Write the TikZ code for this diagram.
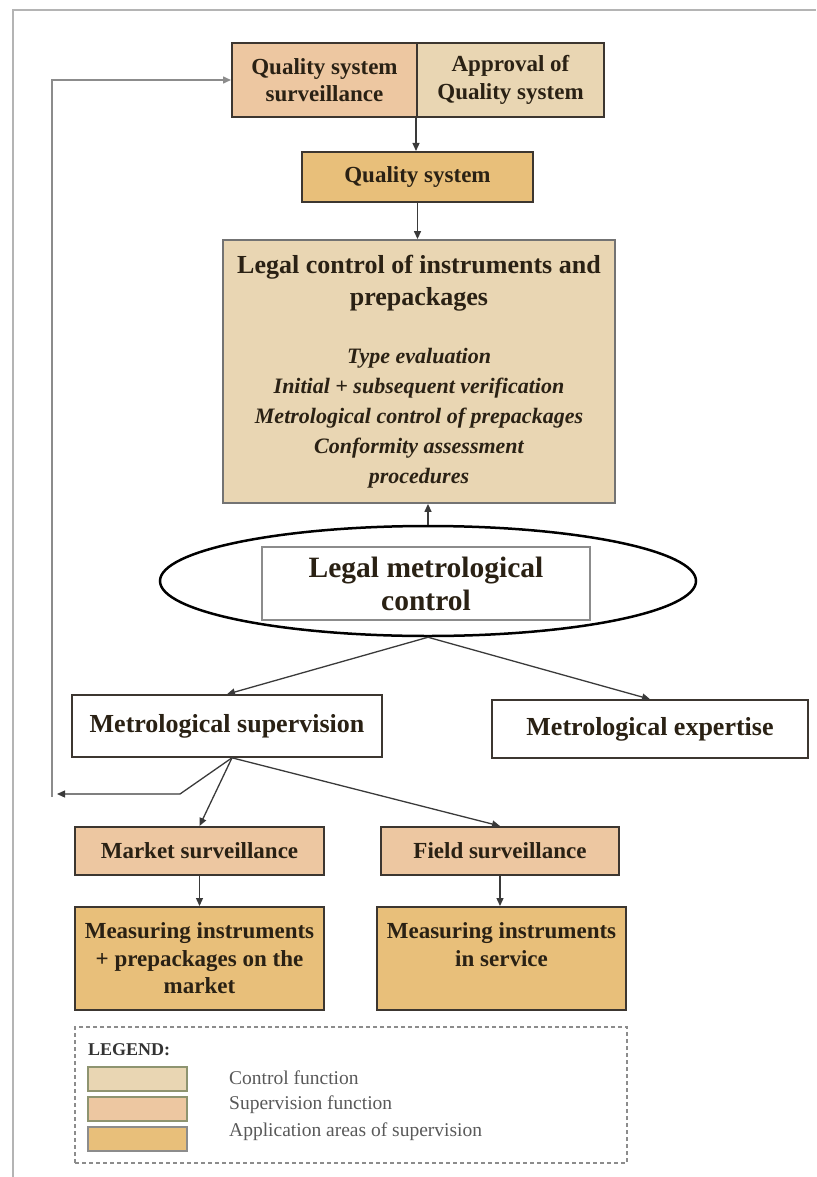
\documentclass[tikz,border=0pt]{standalone}
\usepackage{fontspec}
\setmainfont{Liberation Serif}
\usetikzlibrary{arrows.meta,shapes.geometric}

\definecolor{ctrlfill}{HTML}{E9D6B3}
\definecolor{supfill}{HTML}{EDC7A1}
\definecolor{appfill}{HTML}{E8BF7A}
\definecolor{inkc}{HTML}{2A2114}
\definecolor{edgec}{HTML}{3C3630}
\definecolor{linec}{HTML}{3A3A3A}
\definecolor{framec}{HTML}{B4B4B4}
\definecolor{swatchedge}{HTML}{8E9470}

\tikzset{
  box/.style={draw=edgec, line width=2pt, inner sep=0pt, align=center, text=inkc,
    font=\fontsize{23}{27.5}\selectfont\bfseries},
  ctrlbox/.style={box, fill=ctrlfill},
  supbox/.style={box, fill=supfill},
  appbox/.style={box, fill=appfill},
  plainbox/.style={draw=edgec, line width=1.6pt, fill=white, inner sep=0pt, align=center,
    text=inkc, font=\fontsize{26}{30}\selectfont\bfseries},
  arr/.style={draw=linec, line width=1.3pt, -{Triangle[length=8pt,width=7pt]}},
  backarr/.style={draw=black!45, line width=1.5pt, -{Triangle[length=8pt,width=7pt]}},
  swatch/.style={draw=swatchedge, line width=1.5pt, minimum width=99pt, minimum height=24pt, inner sep=0pt},
  legtext/.style={anchor=west, inner sep=0pt, text=black!65, font=\fontsize{19.5}{22}\selectfont},
}

\begin{document}
\begin{tikzpicture}[x=1pt, y=-1pt]
\useasboundingbox (0,0) rectangle (816,1177);

% page frame
\draw[framec, line width=2pt] (13,1177) -- (13,10) -- (816,10);

% quality system chain
\node[supbox, minimum width=185pt, minimum height=74pt] (qss) at (324.5,80) {Quality system\\surveillance};
\node[ctrlbox, minimum width=187pt, minimum height=74pt] (aqs) at (510.5,80) {Approval of\\Quality system};
\node[appbox, minimum width=231pt, minimum height=50pt] (qs) at (417.5,177) {Quality system};

% legal control of instruments
\node[ctrlbox, draw=black!55, line width=1.8pt, minimum width=392pt, minimum height=263pt, text width=386pt, align=flush center] (legal) at (419,371.5)
  {\fontsize{26}{32}\selectfont\bfseries Legal control of instruments and\\ prepackages\par
   \vspace{28pt}
   \fontsize{22}{30}\selectfont\bfseries\itshape
   Type evaluation\\ Initial + subsequent verification\\
   Metrological control of prepackages\\ Conformity assessment\\ procedures\par};

% central ellipse
\node[ellipse, draw=black, line width=2.5pt, minimum width=536pt, minimum height=110pt, inner sep=0pt] (lmc) at (428,581) {};
\node[draw=black!45, line width=1.2pt, fill=white, minimum width=328pt, minimum height=73pt, inner sep=0pt,
  align=center, text=inkc, font=\fontsize{29.5}{33}\selectfont\bfseries] (lmctext) at (426,583.5) {Legal metrological\\control};

% supervision and expertise
\node[plainbox, minimum width=310pt, minimum height=62pt] (ms) at (227,726) {Metrological supervision};
\node[plainbox, minimum width=316pt, minimum height=58pt] (me) at (650,729) {Metrological expertise};

% surveillance boxes
\node[supbox, minimum width=249pt, minimum height=48pt] (mkt) at (199.5,851) {Market surveillance};
\node[supbox, minimum width=238pt, minimum height=48pt] (fld) at (500,851) {Field surveillance};
\node[appbox, minimum width=249pt, minimum height=103pt] (mi1) at (199.5,958.5) {Measuring instruments\\+ prepackages on the\\market};
\node[appbox, minimum width=249pt, minimum height=103pt] (mi2) at (501.5,958.5) {Measuring instruments\\in service\\\mbox{}};

% connectors
\draw[arr] (aqs.south west) -- (aqs.south west |- qs.north);
\draw[arr] (qs.south) -- (qs.south |- legal.north);
\draw[arr] (lmc.north) -- (lmc.north |- legal.south);
\draw[arr] (lmc.south) -- (ms.north);
\draw[arr] (lmc.south) -- (me.north);
\coordinate (msout) at ([xshift=5pt]ms.south);
\draw[arr] (msout) -- (mkt.north);
\draw[arr] (msout) -- (fld.north);
\draw[arr] (mkt.south) -- (mkt.south |- mi1.north);
\draw[arr] (fld.south) -- (fld.south |- mi2.north);

% feedback to quality system surveillance
\coordinate (fbk) at (180,794);
\coordinate (fbend) at (57,794);
\coordinate (fbcorner) at (52,797);
\draw[arr] (msout) -- (fbk) -- (fbend);
\draw[backarr] (fbcorner) -- (fbcorner |- qss.west) -- (qss.west);

% legend
\node[draw=black!45, line width=1.2pt, dash pattern=on 4pt off 3pt, minimum width=552pt, minimum height=136pt, inner sep=0pt] (legend) at (351,1095) {};
\node[anchor=west, inner sep=0pt, text=black!80, font=\fontsize{18}{20}\selectfont\bfseries] (legtitle) at (88,1050) {LEGEND:};
\node[swatch, fill=ctrlfill] (swc) at (137.5,1079) {};
\node[swatch, fill=supfill] (sws) at (137.5,1109) {};
\node[swatch, fill=appfill, draw=black!45] (swa) at (137.5,1139) {};
\node[legtext] (ltc) at (229,1078) {Control function};
\node[legtext] (lts) at (229,1105) {Supervision function};
\node[legtext] (lta) at (229,1132) {Application areas of supervision};

\end{tikzpicture}
\end{document}
